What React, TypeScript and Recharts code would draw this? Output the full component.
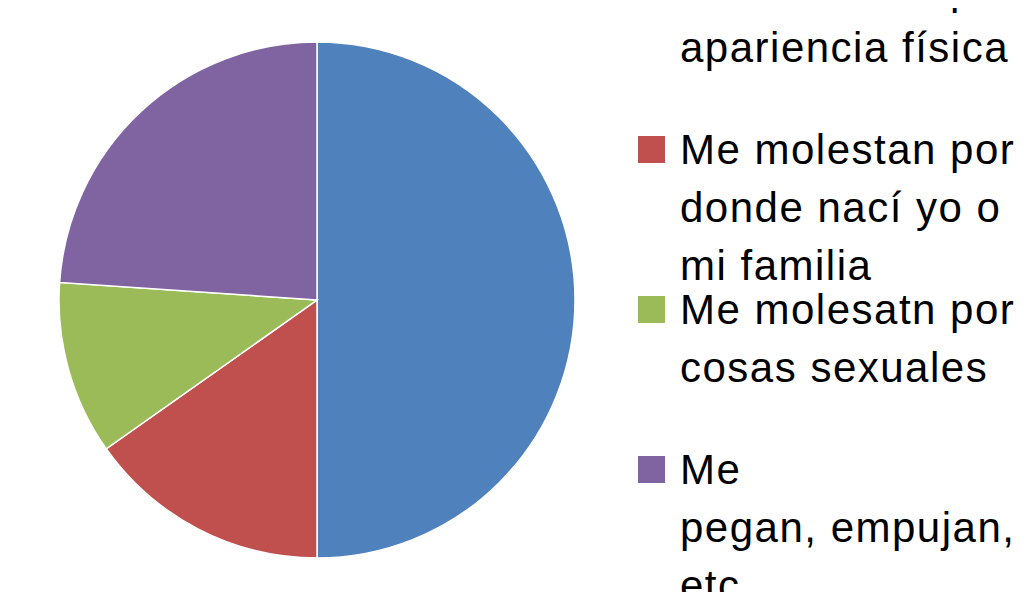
import React from "react";
import { PieChart, Pie, Cell, Legend } from "recharts";

const categories: string[] = [
  "Me molestan por\napariencia física",
  "Me molestan por\ndonde nací yo o\nmi familia",
  "Me molesatn por\ncosas sexuales",
  "Me\npegan, empujan,\netc.",
];
const values: number[] = [23, 7, 5, 11];
const colors: string[] = ["#4F81BD", "#C0504D", "#9BBB59", "#8064A2"];

const data = categories.map((name, i) => ({ name, value: values[i] }));

const LegendContent = () => {
  return (
    <div>
      {categories.map((label, i) => (
        <div
          key={i}
          style={{
            position: "relative",
            height: 160,
            overflow: "visible",
          }}
        >
          <div
            style={{
              position: "absolute",
              left: 0,
              top: 15,
              width: 27,
              height: 27,
              background: colors[i],
            }}
          />
          <div
            style={{
              position: "absolute",
              left: 42,
              top: 0,
              whiteSpace: "pre",
              fontFamily: "'Liberation Sans', Arial, sans-serif",
              fontSize: 42,
              letterSpacing: 1.5,
              lineHeight: "58px",
              color: "#000",
            }}
          >
            {label}
          </div>
        </div>
      ))}
    </div>
  );
};

export default function App() {
  return (
    <div style={{ width: 1029, height: 600, margin: -8, overflow: "visible" }}>
      <PieChart width={1029} height={600} margin={{ top: 0, right: 0, bottom: 0, left: 0 }}>
        <Pie
          data={data}
          dataKey="value"
          nameKey="name"
          cx={317}
          cy={300}
          outerRadius={258}
          startAngle={90}
          endAngle={-270}
          stroke="#ffffff"
          strokeWidth={1.5}
          isAnimationActive={false}
        >
          {data.map((_, i) => (
            <Cell key={i} fill={colors[i]} />
          ))}
        </Pie>
        <Legend
          layout="vertical"
          content={<LegendContent />}
          wrapperStyle={{ position: "absolute", left: 638, top: -39, width: 391 }}
        />
      </PieChart>
    </div>
  );
}
